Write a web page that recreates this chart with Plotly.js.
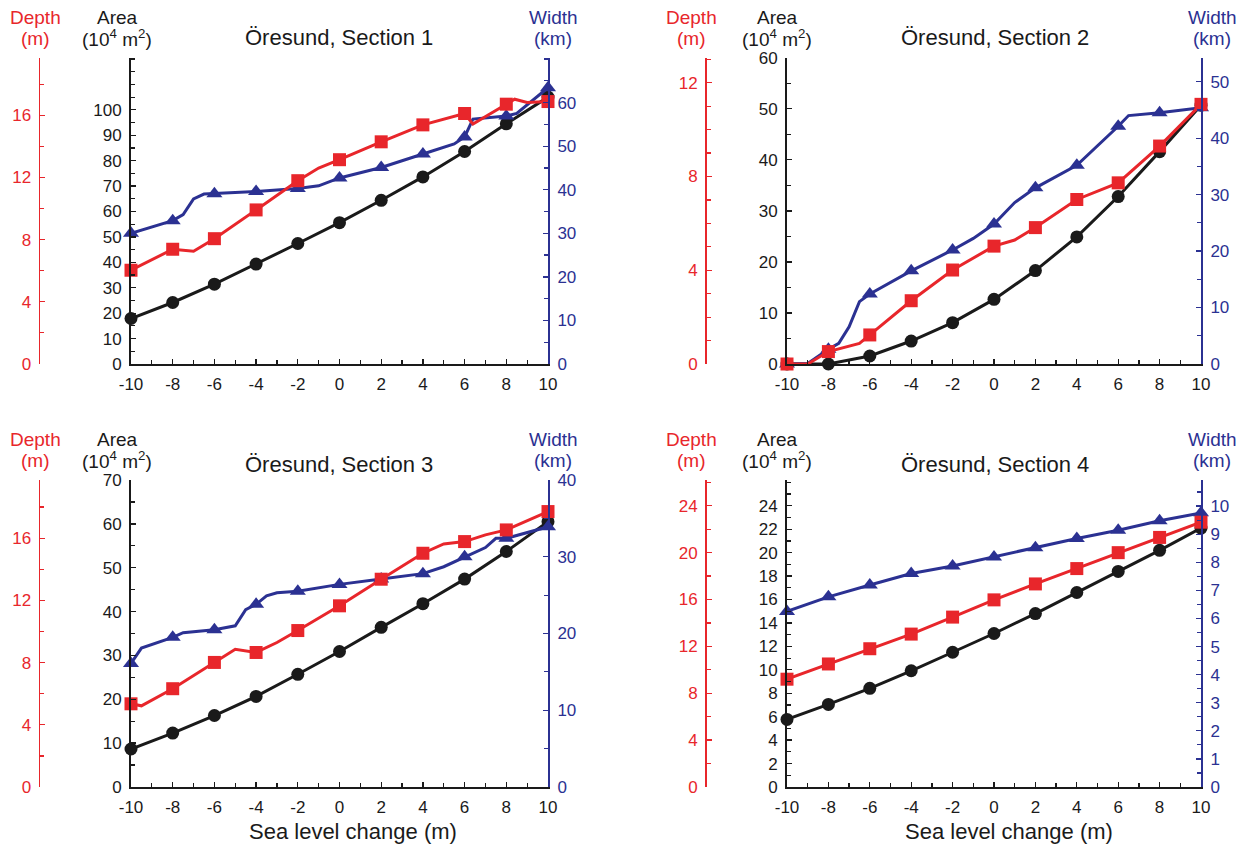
<!DOCTYPE html>
<html>
<head>
<meta charset="utf-8">
<script src="https://cdn.plot.ly/plotly-3.0.1.min.js"></script>
<style>html,body{margin:0;padding:0;background:#fff;}#chart{width:1250px;height:847px;}</style>
</head>
<body>
<div id="chart"></div>
<script>
// ---------------- DATA ----------------
const seaLevel = [-10, -8, -6, -4, -2, 0, 2, 4, 6, 8, 10];
const xTickVals = [-10, -8, -6, -4, -2, 0, 2, 4, 6, 8, 10];
const xTickText = ["-10", "-8", "-6", "-4", "-2", "0", "2", "4", "6", "8", "10"];
const sectionTitles = ["Öresund, Section 1", "Öresund, Section 2", "Öresund, Section 3", "Öresund, Section 4"];

// Section 1
const s1Area = [17.9, 24.2, 31.4, 39.3, 47.4, 55.6, 64.4, 73.6, 83.6, 94.5, 105];
const s1DepthX = [-10, -8, -7, -6, -4, -2, -1, 0, 2, 4, 6, 6.4, 8, 8.4, 9, 10];
const s1Depth = [6.03, 7.38, 7.25, 8.06, 9.91, 11.79, 12.6, 13.14, 14.29, 15.38, 16.11, 15.43, 16.71, 17.03, 16.82, 16.88];
const s1WidthX = [-10, -8, -7.5, -7, -6.5, -6, -4, -2, -1, 0, 2, 4, 5.5, 6, 6.4, 8, 8.5, 10];
const s1Width = [30.0, 32.9, 34.3, 37.9, 39.0, 39.1, 39.6, 40.3, 40.9, 42.7, 45.1, 48.2, 50.5, 52.1, 56.2, 56.9, 57.5, 63.4];

// Section 2
const s2Area = [0, 0, 1.57, 4.5, 8.1, 12.66, 18.3, 24.9, 32.8, 41.6, 50.7];
const s2DepthX = [-10, -9, -8, -6.5, -6, -4, -2, 0, 1, 2, 4, 6, 8, 10];
const s2Depth = [0, 0, 0.53, 0.88, 1.24, 2.70, 4.01, 5.03, 5.29, 5.82, 7.02, 7.73, 9.30, 11.08];
const s2WidthX = [-10, -9, -8, -7.5, -7, -6.5, -6, -4, -2, -1, 0, 1, 2, 4, 6, 6.5, 8, 10];
const s2Width = [0, 0.1, 2.6, 3.66, 6.6, 11.04, 12.4, 16.5, 20.2, 22.25, 24.8, 28.6, 31.2, 35.2, 42.1, 44.0, 44.5, 45.4];

// Section 3
const s3Area = [8.66, 12.3, 16.3, 20.65, 25.7, 30.9, 36.4, 41.8, 47.4, 53.7, 60.5];
const s3DepthX = [-10, -9.5, -8, -6, -5, -4, -3, -2, 0, 2, 4, 5, 6, 7, 8, 10];
const s3Depth = [5.35, 5.22, 6.32, 8.01, 8.86, 8.65, 9.29, 10.06, 11.65, 13.36, 15.03, 15.63, 15.78, 16.21, 16.53, 17.71];
const s3WidthX = [-10, -9.5, -8, -7.5, -6, -5, -4.5, -4, -3.5, -3, -2, 0, 2, 4, 5, 6, 7, 7.5, 8, 10];
const s3Width = [16.1, 18.1, 19.5, 20.1, 20.5, 21.0, 23.1, 23.8, 24.9, 25.3, 25.5, 26.4, 27.1, 27.8, 28.7, 30.0, 31.2, 32.4, 32.4, 33.9];

// Section 4
const s4Area = [5.77, 7.05, 8.42, 9.92, 11.5, 13.1, 14.8, 16.6, 18.4, 20.2, 22.1];
const s4Depth = [9.2, 10.5, 11.8, 13.05, 14.5, 15.97, 17.33, 18.64, 20.0, 21.3, 22.6];
const s4Width = [6.25, 6.77, 7.19, 7.6, 7.87, 8.19, 8.52, 8.85, 9.14, 9.48, 9.76];

// Axis tick labels
const areaTicks = [[0,10,20,30,40,50,60,70,80,90,100], [0,10,20,30,40,50,60], [0,10,20,30,40,50,60,70], [0,2,4,6,8,10,12,14,16,18,20,22,24]];
const depthTicks = [[0,4,8,12,16], [0,4,8,12], [0,4,8,12,16], [0,4,8,12,16,20,24]];
const widthTicks = [[0,10,20,30,40,50,60], [0,10,20,30,40,50], [0,10,20,30,40], [0,1,2,3,4,5,6,7,8,9,10]];

// ---------------- STYLE / LAYOUT ----------------
const W = 1250, H = 847;
const RED = '#e8262b', BLUE = '#2b3192', BLACK = '#1a1a1a';
const FONT = 'Liberation Sans, Arial, Helvetica, sans-serif';

const panels = [
  { area: [seaLevel, s1Area], depth: [s1DepthX, s1Depth], width: [s1WidthX, s1Width],
    areaRange: [0, 120.5], depthRange: [0, 19.7], widthRange: [0, 70.3], areaMinor: 5, depthMinor: 2, widthMinor: 5 },
  { area: [seaLevel, s2Area], depth: [s2DepthX, s2Depth], width: [s2WidthX, s2Width],
    areaRange: [0, 60], depthRange: [0, 13.07], widthRange: [0, 54.25], areaMinor: 5, depthMinor: 1, widthMinor: 5 },
  { area: [seaLevel, s3Area], depth: [s3DepthX, s3Depth], width: [s3WidthX, s3Width],
    areaRange: [0, 70], depthRange: [0, 19.74], widthRange: [0, 40], areaMinor: 5, depthMinor: 2, widthMinor: 5 },
  { area: [seaLevel, s4Area], depth: [seaLevel, s4Depth], width: [seaLevel, s4Width],
    areaRange: [0, 26.2], depthRange: [0, 26.2], widthRange: [0, 10.93], areaMinor: 1, depthMinor: 2, widthMinor: 0.5 }
];

const px = x => x / W;
const py = y => 1 - y / H;
const isMarked = v => Number.isInteger(v) && v % 2 === 0;

const traces = [];
const layout = {
  width: W, height: H, autosize: false,
  margin: { l: 0, r: 0, t: 0, b: 0 },
  paper_bgcolor: '#fff', plot_bgcolor: 'rgba(0,0,0,0)',
  showlegend: false,
  font: { family: FONT, size: 17, color: BLACK },
  annotations: []
};

function tickAxisCommon(color) {
  return {
    ticks: 'inside', ticklen: 5, tickwidth: 1.3, tickcolor: color,
    showline: true, linecolor: color, linewidth: 2,
    showgrid: false, zeroline: false, fixedrange: true,
    tickfont: { family: FONT, size: 17, color: color },
    ticklabelstandoff: 4
  };
}

panels.forEach((p, i) => {
  const col = i % 2, row = Math.floor(i / 2);
  const xl = col === 0 ? 131 : 787, xr = col === 0 ? 548 : 1201;
  const yt = row === 0 ? 57.7 : 480, yb = row === 0 ? 364 : 787;
  const depthPosPx = col === 0 ? 38.5 : 705;
  const xs = i === 0 ? '' : String(i + 1);
  const aId = 3 * i + 1, wId = 3 * i + 2, dId = 3 * i + 3;
  const aName = aId === 1 ? '' : String(aId);

  layout['xaxis' + xs] = Object.assign(tickAxisCommon(BLACK), {
    domain: [px(xl), px(xr)], anchor: 'y' + aName, range: [-10, 10],
    tickmode: 'array', tickvals: xTickVals, ticktext: xTickText,
    minor: { tickmode: 'linear', tick0: 0, dtick: 1, ticks: 'inside', ticklen: 4, tickcolor: BLACK, tickwidth: 1.2 }
  });
  layout['yaxis' + aName] = Object.assign(tickAxisCommon(BLACK), {
    domain: [py(yb), py(yt)], anchor: 'x' + xs, range: p.areaRange,
    tickmode: 'array', tickvals: areaTicks[i],
    minor: { tickmode: 'linear', tick0: 0, dtick: p.areaMinor, ticks: 'inside', ticklen: 4, tickcolor: BLACK, tickwidth: 1.2 }
  });
  layout['yaxis' + wId] = Object.assign(tickAxisCommon(BLUE), {
    overlaying: 'y' + aName, side: 'right', anchor: 'x' + xs, range: p.widthRange,
    tickmode: 'array', tickvals: widthTicks[i],
    minor: { tickmode: 'linear', tick0: 0, dtick: p.widthMinor, ticks: 'inside', ticklen: 4, tickcolor: BLUE, tickwidth: 1.2 }
  });
  layout['yaxis' + dId] = Object.assign(tickAxisCommon(RED), {
    overlaying: 'y' + aName, side: 'left', anchor: 'free', position: px(depthPosPx), range: p.depthRange,
    linewidth: 1.5,
    tickmode: 'array', tickvals: depthTicks[i],
    minor: { tickmode: 'linear', tick0: 0, dtick: p.depthMinor, ticks: 'inside', ticklen: 4, tickcolor: RED, tickwidth: 1.2 }
  });

  const series = [
    { d: p.area, yax: 'y' + aName, color: BLACK, symbol: 'circle', size: 13 },
    { d: p.width, yax: 'y' + wId, color: BLUE, symbol: 'triangle-up', size: 14 },
    { d: p.depth, yax: 'y' + dId, color: RED, symbol: 'square', size: 13 }
  ];
  series.forEach(s => {
    const [xv, yv] = s.d;
    traces.push({
      type: 'scatter', mode: 'lines', x: xv, y: yv, xaxis: 'x' + xs, yaxis: s.yax,
      line: { color: s.color, width: 3 }, cliponaxis: false, hoverinfo: 'skip'
    });
    const mx = [], my = [];
    xv.forEach((v, k) => { if (isMarked(v)) { mx.push(v); my.push(yv[k]); } });
    traces.push({
      type: 'scatter', mode: 'markers', x: mx, y: my, xaxis: 'x' + xs, yaxis: s.yax,
      marker: { color: s.color, symbol: s.symbol, size: s.size, line: { width: 0 } },
      cliponaxis: false, hoverinfo: 'skip'
    });
  });

  // Titles and axis headers
  const hy1 = row === 0 ? 18 : 440, hy2 = row === 0 ? 38 : 460;
  const ty = row === 0 ? 37 : 464;
  const ann = (text, x, y, color, size) => layout.annotations.push({
    text, x: px(x), y: py(y), xref: 'paper', yref: 'paper', showarrow: false,
    xanchor: 'center', yanchor: 'middle', font: { family: FONT, size, color }
  });
  const dX = col === 0 ? 35 : 691, aX = col === 0 ? 117 : 777, wX = col === 0 ? 553 : 1212;
  ann('Depth', dX, hy1, RED, 19);
  ann('(m)', dX, hy2, RED, 19);
  ann('Area', aX, hy1, BLACK, 19);
  ann('(10<sup>4</sup> m<sup>2</sup>)', aX, hy2, BLACK, 19);
  ann('Width', wX, hy1, BLUE, 19);
  ann('(km)', wX, hy2, BLUE, 19);
  ann(sectionTitles[i], col === 0 ? 339 : 995, ty, BLACK, 22);
  if (row === 1) ann('Sea level change (m)', col === 0 ? 353 : 1009, 831, BLACK, 22);
});

Plotly.newPlot('chart', traces, layout, { staticPlot: true, displayModeBar: false }).then(gd => {
  // remove empty placeholder axis-title text nodes
  gd.querySelectorAll('text').forEach(t => { if (!t.textContent.trim()) t.remove(); });
});
</script>
</body>
</html>
